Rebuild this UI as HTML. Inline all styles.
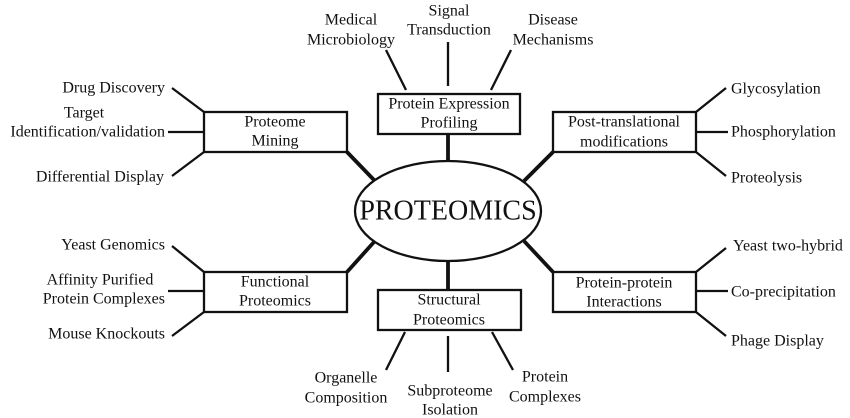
<!DOCTYPE html>
<html><head><meta charset="utf-8"><style>html,body{margin:0;padding:0;background:#fff}svg{display:block}text{font-family:"Liberation Serif",serif;font-size:16px;fill:#111;dominant-baseline:central}</style></head>
<body>
<svg width="850" height="418" viewBox="0 0 850 418" xmlns="http://www.w3.org/2000/svg">
<g stroke="#111" fill="none" stroke-width="2.3">
<rect x="204" y="112" width="143" height="40"/>
<rect x="378" y="94" width="142" height="40"/>
<rect x="553" y="112" width="143" height="40"/>
<rect x="204" y="272" width="143" height="40"/>
<rect x="378" y="290" width="143" height="40"/>
<rect x="553" y="272" width="143" height="40"/>
<ellipse cx="448" cy="211" rx="93" ry="50"/>
<g stroke-width="3.8">
<line x1="347" y1="152" x2="374" y2="180"/>
<line x1="448" y1="134" x2="448" y2="161"/>
<line x1="553" y1="152" x2="524" y2="181"/>
<line x1="347" y1="272" x2="374" y2="242"/>
<line x1="448" y1="261" x2="448" y2="290"/>
<line x1="553" y1="272" x2="524" y2="241"/>
</g>
<line x1="172" y1="88" x2="204" y2="112"/>
<line x1="168" y1="132" x2="204" y2="132"/>
<line x1="172" y1="176" x2="204" y2="152"/>
<line x1="172" y1="246" x2="204" y2="272"/>
<line x1="168" y1="291" x2="204" y2="291"/>
<line x1="172" y1="336" x2="204" y2="312"/>
<line x1="696" y1="112" x2="726" y2="88"/>
<line x1="696" y1="132" x2="728" y2="132"/>
<line x1="696" y1="152" x2="726" y2="176"/>
<line x1="696" y1="272" x2="726" y2="248"/>
<line x1="696" y1="291" x2="728" y2="291"/>
<line x1="696" y1="312" x2="726" y2="336"/>
<line x1="386" y1="50" x2="406" y2="90"/>
<line x1="448" y1="42" x2="448" y2="86"/>
<line x1="511" y1="50" x2="491" y2="90"/>
<line x1="405" y1="332" x2="386" y2="370"/>
<line x1="448" y1="336" x2="448" y2="372"/>
<line x1="492" y1="332" x2="513" y2="370"/>
</g>
<text x="448" y="211" text-anchor="middle" style="font-size:28px">PROTEOMICS</text>
<g text-anchor="middle">
<text x="275" y="122">Proteome</text><text x="275" y="141">Mining</text>
<text x="449" y="104">Protein Expression</text><text x="449" y="123">Profiling</text>
<text x="624" y="122">Post-translational</text><text x="624" y="142">modifications</text>
<text x="275" y="282">Functional</text><text x="275" y="301">Proteomics</text>
<text x="449" y="300">Structural</text><text x="449" y="320">Proteomics</text>
<text x="624" y="283">Protein-protein</text><text x="624" y="302">Interactions</text>
<text x="351" y="20">Medical</text><text x="351" y="40">Microbiology</text>
<text x="449" y="11">Signal</text><text x="449" y="30">Transduction</text>
<text x="553" y="20">Disease</text><text x="553" y="40">Mechanisms</text>
<text x="84" y="113">Target</text>
<text x="100" y="280">Affinity Purified</text>
<text x="346" y="378">Organelle</text><text x="346" y="398">Composition</text>
<text x="450" y="391">Subproteome</text><text x="450" y="410">Isolation</text>
<text x="545" y="377">Protein</text><text x="545" y="397">Complexes</text>
</g>
<g text-anchor="end">
<text x="165" y="88">Drug Discovery</text>
<text x="165" y="132">Identification/validation</text>
<text x="164" y="177">Differential Display</text>
<text x="165" y="245">Yeast Genomics</text>
<text x="165" y="299">Protein Complexes</text>
<text x="165" y="334">Mouse Knockouts</text>
</g>
<g>
<text x="731" y="89">Glycosylation</text>
<text x="731" y="132">Phosphorylation</text>
<text x="731" y="178">Proteolysis</text>
<text x="733" y="246">Yeast two-hybrid</text>
<text x="731" y="292">Co-precipitation</text>
<text x="731" y="341">Phage Display</text>
</g>
</svg>
</body></html>
